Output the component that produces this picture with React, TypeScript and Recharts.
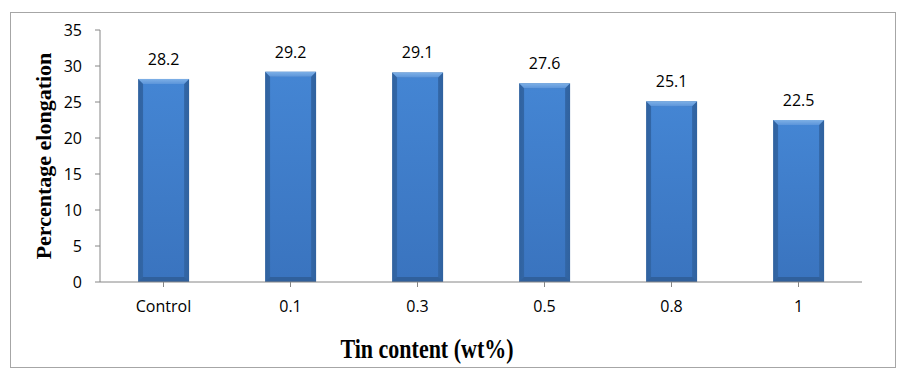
import React from "react";
import { Bar, BarChart, LabelList, XAxis, YAxis } from "recharts";

const categories = ["Control", "0.1", "0.3", "0.5", "0.8", "1"];
const elongation = [28.2, 29.2, 29.1, 27.6, 25.1, 22.5];
const yTicks = [0, 5, 10, 15, 20, 25, 30, 35];

const chartData = categories.map((tin, i) => ({ tin, elongation: elongation[i] }));

const axisColor = "#868686";
const tickFont = { fontFamily: "'Open Sans', sans-serif", fontSize: 16, fill: "#000" };
const titleFont = "'Liberation Serif', 'Times New Roman', serif";

// bevelled blue bar like the old office charts
const BevelBar = (props: any) => {
  const { x, y, width, height } = props;
  if (!height || height <= 0) return null;
  const b = 5;
  return (
    <g>
      <rect x={x} y={y} width={width} height={height} fill="url(#barSide)" />
      <rect x={x + b} y={y + b} width={width - 2 * b} height={height - 2 * b} fill="url(#barFace)" />
      <polygon
        points={`${x},${y} ${x + width},${y} ${x + width - b},${y + b} ${x + b},${y + b}`}
        fill="url(#barTop)"
      />
      <polygon
        points={`${x},${y + height} ${x + width},${y + height} ${x + width - b},${y + height - b} ${x + b},${y + height - b}`}
        fill="#30609c"
      />
    </g>
  );
};

const XTitle = (props: any) => {
  const { viewBox } = props;
  const cx = viewBox.x + viewBox.width / 2 - 54;
  const by = viewBox.y + 76;
  return (
    <text
      transform={`translate(${cx}, ${by}) scale(1, 1.2)`}
      x={0}
      y={0}
      textAnchor="middle"
      fontFamily={titleFont}
      fontWeight="bold"
      fontSize={22}
      fill="#000"
    >
      Tin content (wt%)
    </text>
  );
};

const YTitle = (props: any) => {
  const { viewBox } = props;
  const cx = 51;
  const cy = viewBox.y + viewBox.height / 2;
  return (
    <text
      x={cx}
      y={cy}
      transform={`rotate(-90, ${cx}, ${cy})`}
      textAnchor="middle"
      fontFamily={titleFont}
      fontWeight="bold"
      fontSize={22}
      fill="#000"
    >
      Percentage elongation
    </text>
  );
};

export default function App() {
  return (
    <div style={{ position: "absolute", left: 0, top: 0, width: 900, height: 376, background: "#fff" }}>
      <div
        style={{
          position: "absolute",
          left: 10,
          top: 12,
          width: 884,
          height: 354,
          border: "1px solid #a6a6a6",
        }}
      />
      <div style={{ position: "absolute", left: 0, top: 0 }}>
        <BarChart
          width={900}
          height={376}
          data={chartData}
          margin={{ top: 30, right: 38, left: 0, bottom: 0 }}
          barCategoryGap="30%"
        >
          <defs>
            <linearGradient id="barSide" x1="0" y1="0" x2="1" y2="0">
              <stop offset="0%" stopColor="#30629f" />
              <stop offset="50%" stopColor="#3c78c4" />
              <stop offset="100%" stopColor="#30629f" />
            </linearGradient>
            <linearGradient id="barFace" x1="0" y1="0" x2="0" y2="1">
              <stop offset="0%" stopColor="#4485d3" />
              <stop offset="100%" stopColor="#3a74bf" />
            </linearGradient>
            <linearGradient id="barTop" x1="0" y1="0" x2="0" y2="1">
              <stop offset="0%" stopColor="#7eb0e6" />
              <stop offset="100%" stopColor="#5c95da" />
            </linearGradient>
          </defs>
          <XAxis
            dataKey="tin"
            height={94}
            axisLine={{ stroke: axisColor }}
            tickLine={{ stroke: axisColor }}
            tickSize={5}
            tickMargin={14}
            tick={tickFont}
            interval={0}
            label={<XTitle />}
          />
          <YAxis
            width={100}
            domain={[0, 35]}
            ticks={yTicks}
            interval={0}
            axisLine={{ stroke: axisColor }}
            tickLine={{ stroke: axisColor }}
            tickSize={5}
            tickMargin={13}
            tick={tickFont}
            label={<YTitle />}
          />
          <Bar dataKey="elongation" shape={<BevelBar />} isAnimationActive={false}>
            <LabelList dataKey="elongation" position="top" offset={14} style={tickFont} />
          </Bar>
        </BarChart>
      </div>
    </div>
  );
}
